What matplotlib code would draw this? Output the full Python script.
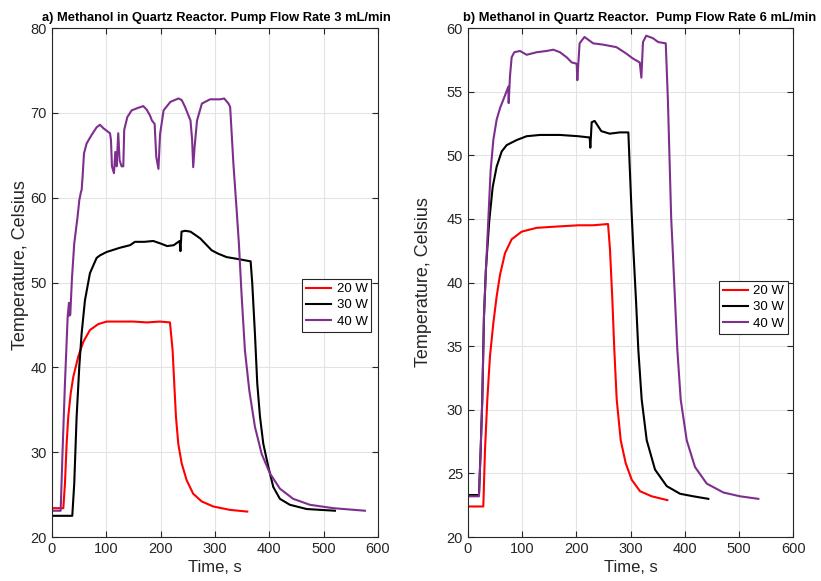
import matplotlib
matplotlib.use('Agg')
import matplotlib.pyplot as plt

plt.rcParams['font.family'] = ['Liberation Sans', 'DejaVu Sans']

# a) 3 mL/min
ta20 = [0, 20.9, 23.9, 27, 30, 34.4, 39.3, 48.5, 57.6, 69.9, 85.2, 100.6, 125, 149.7, 175, 198.8, 217.2,
        222.1, 225.1, 228.2, 232.5, 238.7, 247.9, 260, 275.5, 296.9, 327.6, 359.5]
Ta20 = [23.4, 23.4, 26.3, 31.0, 34.2, 36.9, 38.9, 41.3, 43.0, 44.4, 45.1, 45.4, 45.4, 45.4, 45.3, 45.4, 45.3,
        42.0, 38.1, 34.2, 31.0, 28.7, 26.7, 25.1, 24.2, 23.6, 23.2, 23.0]

ta30 = [0, 37.4, 41, 45.4, 50.3, 54.6, 60.7, 69.9, 76, 82.2, 88.3, 100.6, 125, 143.6, 152.8, 170, 186.5, 200,
        212, 224, 235, 236.5, 238.5, 245, 255, 273, 294, 306, 321.5, 340, 365.7, 368.7, 373.6, 377.9,
        382.9, 389, 398.2, 407.4, 419.6, 438, 468.8, 520.9]
Ta30 = [22.5, 22.5, 26.3, 34.2, 40.1, 44.0, 47.9, 51.1, 52.0, 52.9, 53.2, 53.6, 54.1, 54.4, 54.8, 54.8, 54.9, 54.6,
        54.3, 54.4, 54.9, 53.7, 56.0, 56.1, 56.0, 55.2, 53.8, 53.4, 53.0, 52.8, 52.5, 49.9, 44.0, 38.1,
        34.2, 31.0, 28.3, 25.9, 24.5, 23.8, 23.3, 23.1]

ta40 = [0, 16, 19.6, 23.9, 28.9, 31.3, 32, 33.7, 36.8, 41, 47.2, 50.3, 53.4, 54.6, 56.4, 58.9, 63.8, 73, 82.2,
        88.3, 94.5, 100.6, 106.8, 108.6, 110.4, 114.1, 116.6, 119, 122, 124.5, 128.2, 131.3, 133, 138.7,
        146.7, 158.9, 168, 174.2, 180.4, 184, 189, 192, 196, 199, 205.5, 218, 233, 239, 245, 255, 258, 260,
        262.6, 267, 276, 291, 310, 317, 325, 328, 334, 340, 344.2, 349.1, 355.2, 363.2, 373.6, 386, 401.2,
        419.6, 444.1, 474.8, 517.8, 576.1]
Ta40 = [23.1, 23.1, 30.3, 38.1, 46.0, 47.6, 46.1, 46.2, 50.5, 54.6, 57.8, 59.7, 60.7, 60.9, 62.5, 65.2, 66.4, 67.4, 68.3,
        68.6, 68.2, 67.9, 67.6, 66.8, 63.7, 62.9, 65.4, 63.7, 67.6, 64.4, 63.7, 63.7, 68.0, 69.5,
        70.3, 70.6, 70.8, 70.4, 69.7, 69.1, 68.7, 64.8, 63.4, 67.5, 70.3, 71.3, 71.7, 71.5, 70.7, 69.1, 66.8, 63.6,
        66.0, 69.1, 71.1, 71.6, 71.6, 71.7, 71.1, 70.7, 64.0, 58.5, 54.5, 48.5, 42.0, 37.3, 33.0, 29.8, 27.5,
        25.7, 24.5, 23.8, 23.4, 23.1]

# b) 6 mL/min
tb20 = [0, 28.3, 31.4, 35.7, 40.6, 46.8, 52.9, 59.1, 68.3, 80.6, 99.1, 126.8, 163.7, 203.6, 231, 258.5,
        262.1, 266.5, 270.1, 274.5, 281.9, 291.1, 302.2, 317.5, 339.1, 367.9]
Tb20 = [22.4, 22.4, 26.8, 30.8, 34.2, 36.8, 38.9, 40.6, 42.3, 43.4, 44.0, 44.3, 44.4, 44.5, 44.5, 44.6,
        42.6, 38.6, 34.7, 30.8, 27.6, 25.8, 24.5, 23.6, 23.2, 22.9]

tb30 = [0, 20.3, 23.4, 26.4, 29.5, 33, 39.4, 45.6, 52.9, 62.2, 71.4, 89.9, 108.3, 133, 169.8, 203.6, 224.6,
        225.8, 228.3, 233.8, 246, 261.5, 280, 296, 298.5, 302, 305.2, 310.1, 314.4, 320.6, 329.9, 345.2,
        366.8, 391.4, 415.9, 443.6]
Tb30 = [23.3, 23.3, 26.8, 30.8, 37.3, 41.0, 44.9, 47.5, 49.1, 50.3, 50.8, 51.2, 51.5, 51.6, 51.6, 51.5, 51.4,
        50.6, 52.6, 52.7, 51.9, 51.7, 51.8, 51.8, 49.1, 45.5, 42.6, 38.6, 34.7, 30.8, 27.6, 25.3,
        24.0, 23.4, 23.2, 23.0]

tb40 = [0, 20.3, 23.4, 26.4, 29.5, 33.2, 37.5, 41.8, 46.8, 52.9, 59.1, 68.3, 74.5, 75.1, 77.5, 80.6, 85.5, 96,
        108.3, 126.8, 145.2, 157.5, 169.8, 182.2, 191.4, 200.6, 201.8, 206, 215, 231, 249, 274, 292, 304.6,
        317, 320, 323, 329, 341.5, 351, 365, 369, 375, 377.8, 382.1, 386.4, 392.6, 403.7, 419, 440.6, 471.3,
        502.1, 535.9]
Tb40 = [23.2, 23.2, 26.8, 30.8, 37.3, 41.0, 44.9, 48.8, 51.2, 52.8, 53.7, 54.7, 55.4, 54.1, 56.2, 57.7, 58.1, 58.2,
        57.9, 58.1, 58.2, 58.3, 58.1, 57.7, 57.3, 57.2, 55.9, 58.8, 59.3, 58.8, 58.7, 58.5, 58.0, 57.6,
        57.3, 56.1, 58.9, 59.4, 59.2, 58.9, 58.8, 54.3, 45.1, 42.6, 38.6, 34.7, 30.8, 27.6, 25.5, 24.2, 23.5,
        23.2, 23.0]

labels = ['20 W', '30 W', '40 W']
colors = ['#FF0000', '#000000', '#7E2F8E']

fig = plt.figure(figsize=(8.21, 5.81), dpi=100)
ax1 = fig.add_axes([0.0633, 0.0757, 0.397, 0.876])
ax2 = fig.add_axes([0.570, 0.0757, 0.396, 0.876])

panels = [
    (ax1, [(ta20, Ta20), (ta30, Ta30), (ta40, Ta40)], (20, 80), range(20, 81, 10),
     'a) Methanol in Quartz Reactor. Pump Flow Rate 3 mL/min', 0.505,
     (0.768, 0.507), (-0.072, 0.534)),
    (ax2, [(tb20, Tb20), (tb30, Tb30), (tb40, Tb40)], (20, 60), range(20, 61, 5),
     'b) Methanol in Quartz Reactor.  Pump Flow Rate 6 mL/min', 0.528,
     (0.772, 0.503), (-0.112, 0.50)),
]

for ax, series, ylim, yt, title, tx, lpos, ylpos in panels:
    for (t, T), lab, c in zip(series, labels, colors):
        ax.plot(t, T, color=c, lw=1.5, label=lab)
    ax.set_xlim(0, 600)
    ax.set_ylim(*ylim)
    ax.set_xticks(range(0, 601, 100))
    ax.set_yticks(list(yt))
    ax.grid(True, color='#e3e3e3', lw=0.8)
    ax.set_axisbelow(True)
    ax.tick_params(direction='in', top=True, right=True, labelsize=10.5, colors='#262626', length=4)
    for s in ax.spines.values():
        s.set_color('#262626')
        s.set_linewidth(0.8)
    ax.set_xlabel('Time, s', fontsize=12, color='#262626', labelpad=3)
    ax.set_ylabel('Temperature, Celsius', fontsize=13, color='#262626')
    ax.yaxis.set_label_coords(*ylpos)
    ax.set_title(title, fontsize=9.3, fontweight='bold', x=tx, pad=5)
    leg = ax.legend(loc='upper left', bbox_to_anchor=lpos, borderaxespad=0, fontsize=9.5,
                    fancybox=False, edgecolor='#262626', framealpha=1, handlelength=1.9,
                    borderpad=0.3, labelspacing=0.3, handletextpad=0.4)
    leg.get_frame().set_linewidth(0.8)

fig.savefig('out.png', dpi=100)
